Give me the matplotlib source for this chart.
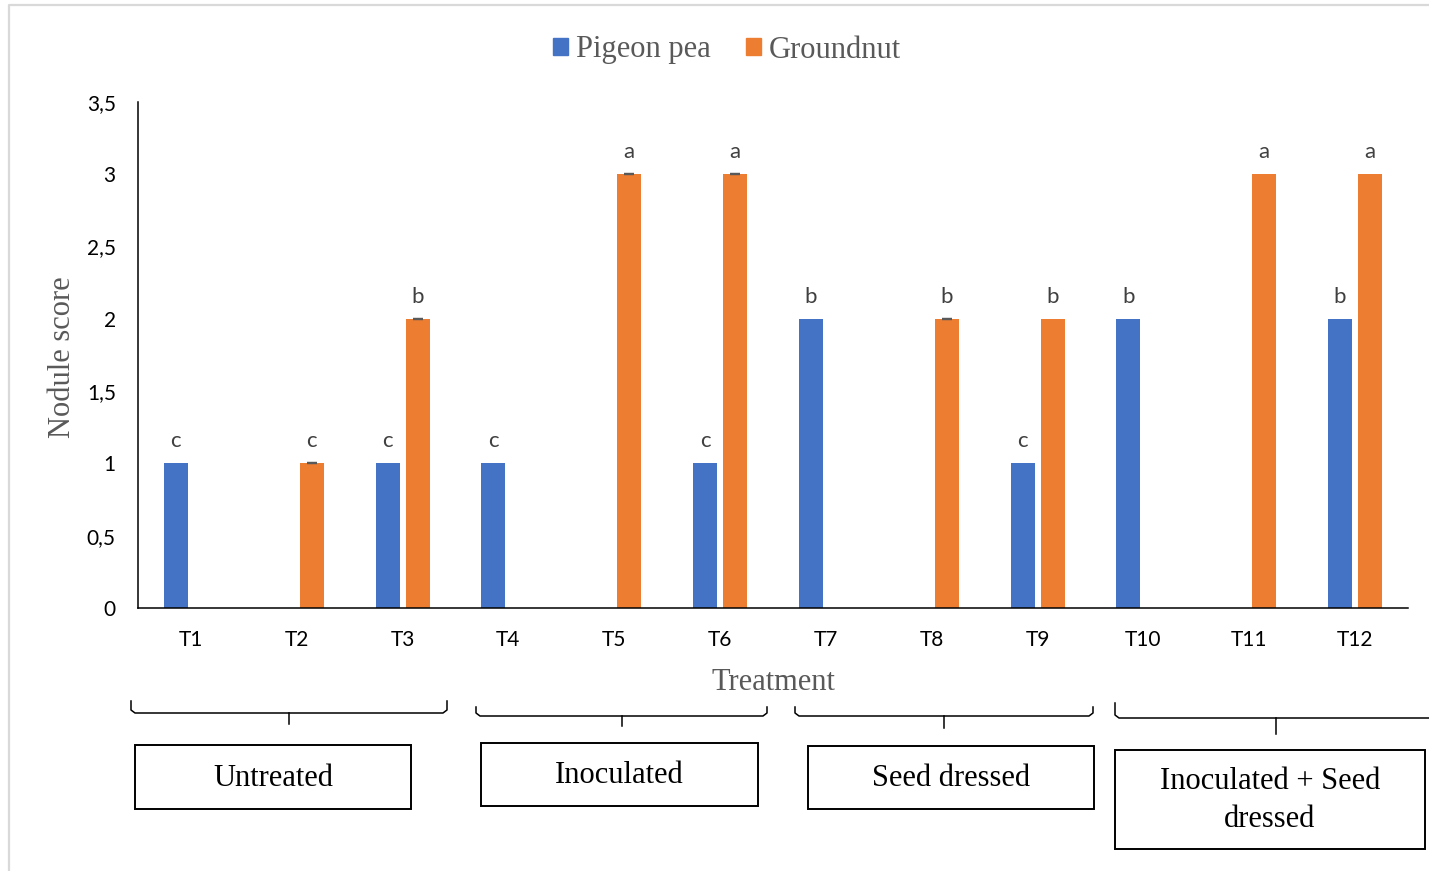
import matplotlib
matplotlib.use("Agg")
import matplotlib.pyplot as plt
import numpy as np
from matplotlib.lines import Line2D
from matplotlib.patches import Patch, Rectangle
from matplotlib.ticker import FuncFormatter

# Data
treatments = ["T1", "T2", "T3", "T4", "T5", "T6", "T7", "T8", "T9", "T10", "T11", "T12"]
pigeon_pea = [1, 0, 1, 1, 0, 1, 2, 0, 1, 2, 0, 2]
groundnut = [0, 1, 2, 0, 3, 3, 0, 2, 2, 0, 3, 3]
pp_letters = ["c", "", "c", "c", "", "c", "b", "", "c", "b", "", "b"]
gn_letters = ["", "c", "b", "", "a", "a", "", "b", "b", "", "a", "a"]
gn_err_shown = [False, True, True, False, True, True, False, True, False, False, False, False]
groups = ["Untreated", "Inoculated", "Seed dressed", "Inoculated + Seed\ndressed"]

BLUE = "#4472C4"
ORANGE = "#ED7D31"
GREY = "#595959"
SERIF = "Liberation Serif"
SANS = "Lato"

W, H = 1429, 871
fig = plt.figure(figsize=(W / 100, H / 100), dpi=100)
ax = fig.add_axes([138 / W, 1 - 608 / H, (1408 - 138) / W, (608 - 102) / H])

x = np.arange(len(treatments))
bw = 0.227
off = 0.142
ax.bar(x - off, pigeon_pea, bw, color=BLUE, zorder=2)
ax.bar(x + off, groundnut, bw, color=ORANGE, zorder=2)

# tiny error bar caps on some groundnut bars
for i in range(len(x)):
    if gn_err_shown[i]:
        ax.errorbar(x[i] + off, groundnut[i], yerr=0, fmt="none", ecolor=GREY,
                    capsize=3.8, capthick=1.6, elinewidth=0, zorder=3)

# significance letters
for i in range(len(x)):
    if pp_letters[i]:
        ax.annotate(pp_letters[i], (x[i] - off, pigeon_pea[i]), xytext=(0, 11.5),
                    textcoords="offset points", ha="center", va="baseline",
                    fontsize=16, color="#404040", family=SANS)
    if gn_letters[i]:
        ax.annotate(gn_letters[i], (x[i] + off, groundnut[i]), xytext=(0, 11.5),
                    textcoords="offset points", ha="center", va="baseline",
                    fontsize=16, color="#404040", family=SANS)

ax.set_xlim(-0.5, len(x) - 0.5)
ax.set_ylim(0, 3.5)
ax.set_yticks(np.arange(0, 3.51, 0.5))
ax.yaxis.set_major_formatter(FuncFormatter(lambda v, p: f"{v:g}".replace(".", ",")))
ax.set_xticks(x)
ax.set_xticklabels(treatments)
for sp in ["top", "right"]:
    ax.spines[sp].set_visible(False)
for sp in ["left", "bottom"]:
    ax.spines[sp].set_color("black")
    ax.spines[sp].set_linewidth(1.1)
ax.tick_params(axis="both", length=0, labelsize=15, colors="black")
ax.tick_params(axis="y", pad=16)
ax.tick_params(axis="x", pad=16)
for lab in ax.get_xticklabels() + ax.get_yticklabels():
    lab.set_family(SANS)

# axis titles
fig.text(62 / W, 1 - 357 / H, "Nodule score", rotation=90, ha="center", va="center",
         fontsize=22, color=GREY, family=SERIF)
fig.text(773 / W, 1 - 683 / H, "Treatment", ha="center", va="center",
         fontsize=22, color=GREY, family=SERIF)

# legend
handles = [Patch(color=BLUE, label="Pigeon pea"), Patch(color=ORANGE, label="Groundnut")]
leg = fig.legend(handles=handles, loc="center", bbox_to_anchor=(727 / W, 1 - 50 / H),
                 ncol=2, frameon=False, handlelength=0.5, handleheight=0.5,
                 handletextpad=0.25, columnspacing=1.15,
                 prop={"family": SERIF, "size": 22})
for t in leg.get_texts():
    t.set_color(GREY)


def px(xp, yp):
    return xp / W, 1 - yp / H


def fig_line(xs, ys, **kw):
    fx = [xp / W for xp in xs]
    fy = [1 - yp / H for yp in ys]
    fig.add_artist(Line2D(fx, fy, transform=fig.transFigure, **kw))


# group brackets: (left, right, end top, horizontal y, middle x, tick bottom)
brackets = [
    (131, 447, 701, 713, 289, 724),
    (476, 767, 707, 716, 622, 726),
    (795, 1093, 707, 716, 944, 728),
    (1115, 1440, 703, 718, 1276, 734),
]
for l, r, top, hy, mx, mb in brackets:
    fig_line([l, l, l + 4, r - 4, r, r], [top, hy - 3, hy, hy, hy - 3, top],
             color="black", lw=1.1)
    fig_line([mx, mx], [hy, mb], color="black", lw=1.1)

# group boxes: (left, top, right, bottom)
boxes = [
    (135, 745, 411, 809),
    (481, 743, 758, 806),
    (808, 746, 1094, 809),
    (1115, 750, 1425, 849),
]
for (l, t, r, b), name in zip(boxes, groups):
    fig.add_artist(Rectangle(px(l, b), (r - l) / W, (b - t) / H, transform=fig.transFigure,
                             fill=False, edgecolor="black", lw=1.4))
    cx, cy = px((l + r) / 2, (t + b) / 2 + 1)
    fig.text(cx, cy, name, ha="center", va="center", fontsize=22, color="black",
             family=SERIF, linespacing=1.45)

# light outer border (top and left)
fig_line([9, 9, W + 5], [H + 5, 5, 5], color="#D9D9D9", lw=1.6)

fig.savefig("out.png", dpi=100)
